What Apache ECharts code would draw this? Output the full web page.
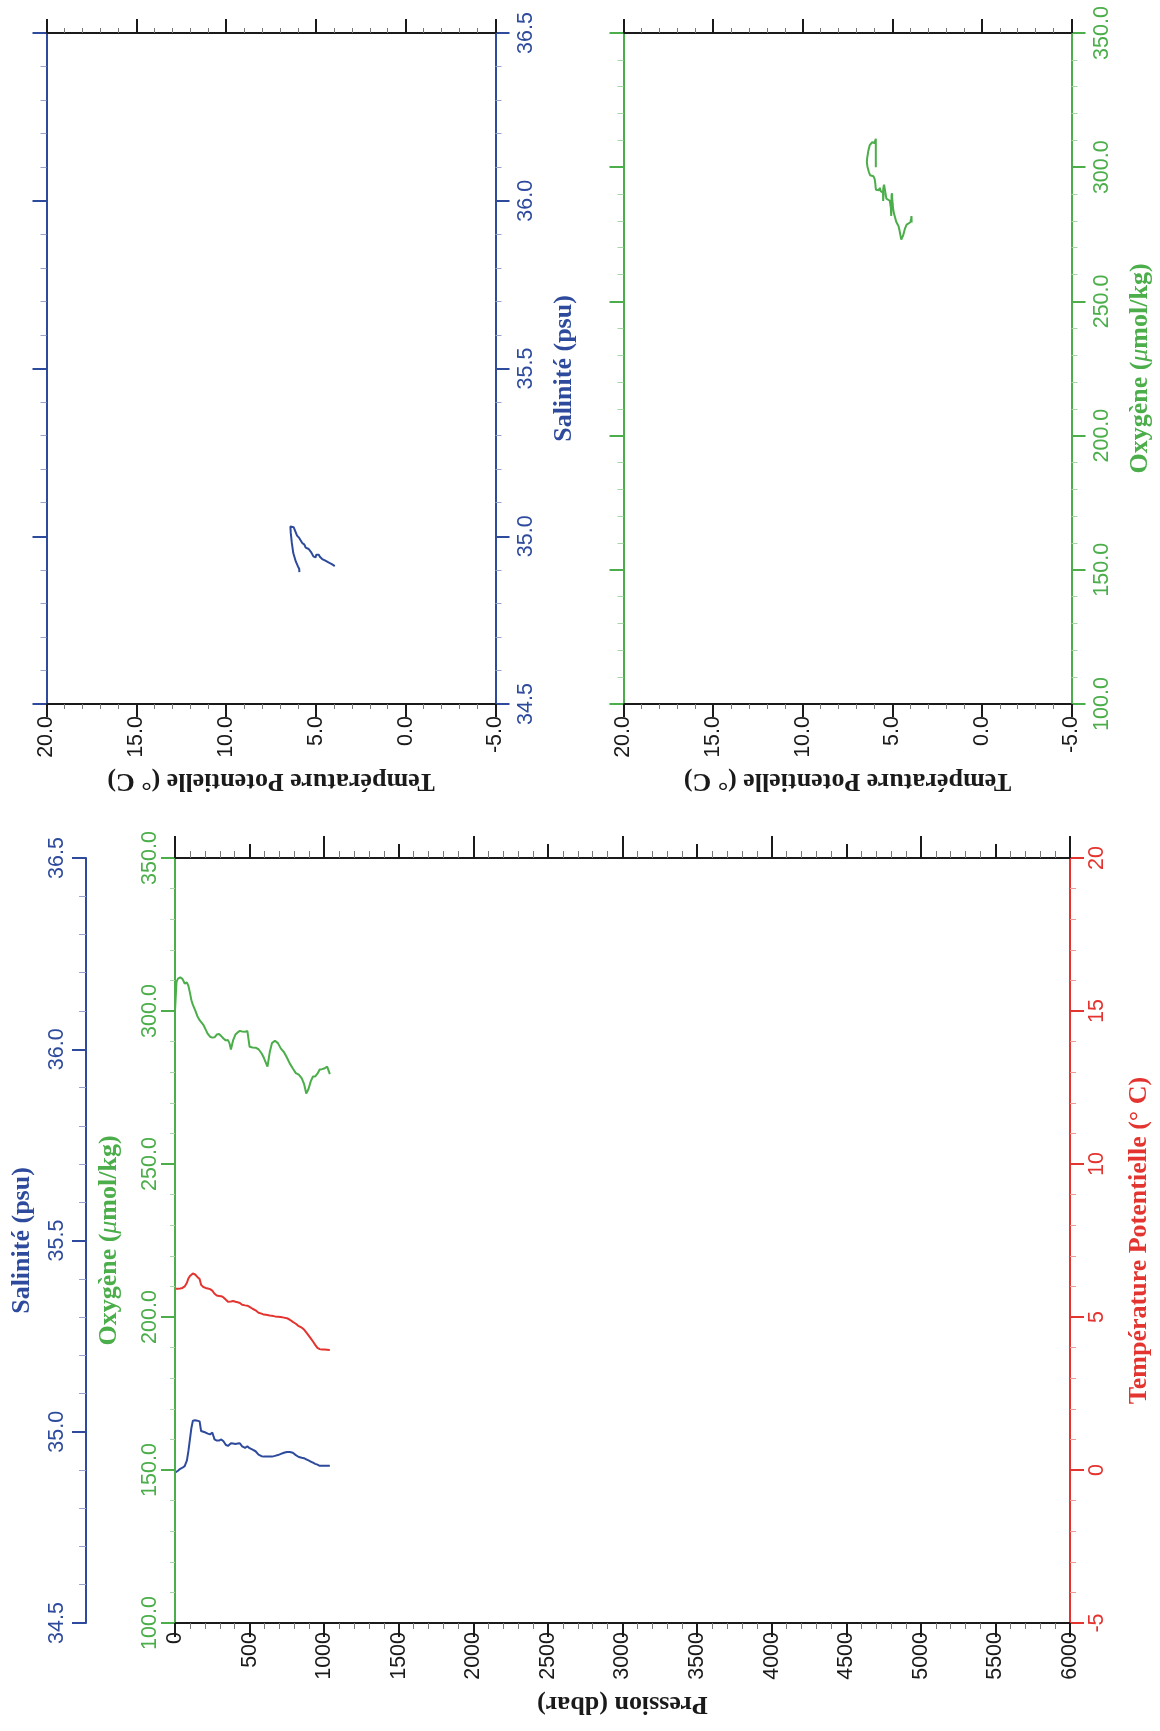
<!DOCTYPE html>
<html>
<head>
<meta charset="utf-8">
<script src="https://cdn.jsdelivr.net/npm/echarts@6/dist/echarts.min.js"></script>
<style>
html,body{margin:0;padding:0;background:#fff;}
#chart{width:1160px;height:1731px;}
</style>
</head>
<body>
<div id="chart"></div>
<script>
// ---- Data (one profile, 0–1040 dbar) ----
const pressure = [0,10,20,35,50,65,80,90,100,110,120,135,150,165,175,190,205,220,235,250,265,280,295,310,325,340,355,365,375,390,405,420,435,450,470,485,500,520,540,560,580,595,610,620,635,650,670,690,710,730,750,770,790,810,830,850,865,880,895,910,925,940,955,970,985,1000,1020,1038];
const temperature = [5.92,5.92,5.92,5.93,5.95,6.00,6.12,6.26,6.34,6.40,6.42,6.39,6.31,6.24,6.05,5.98,5.95,5.93,5.91,5.86,5.76,5.70,5.69,5.68,5.64,5.57,5.50,5.49,5.51,5.52,5.50,5.48,5.46,5.40,5.38,5.37,5.33,5.27,5.22,5.14,5.11,5.08,5.07,5.06,5.05,5.04,5.02,5.01,5.00,4.98,4.96,4.91,4.84,4.78,4.70,4.65,4.59,4.50,4.40,4.30,4.20,4.09,3.99,3.95,3.94,3.94,3.93,3.92];
const salinity = [34.893,34.896,34.898,34.903,34.906,34.910,34.925,34.950,34.980,35.010,35.029,35.030,35.029,35.027,35.002,35.000,34.998,34.995,34.993,34.998,34.980,34.977,34.977,34.980,34.975,34.966,34.963,34.962,34.970,34.969,34.968,34.969,34.970,34.962,34.958,34.962,34.957,34.953,34.949,34.940,34.936,34.935,34.935,34.935,34.935,34.935,34.937,34.939,34.942,34.945,34.947,34.947,34.945,34.939,34.934,34.932,34.931,34.928,34.925,34.922,34.919,34.916,34.914,34.911,34.911,34.911,34.911,34.911];
const oxygen = [300.0,309.5,310.6,311.0,310.5,309.0,309.3,308.2,306.0,303.5,302.0,300.3,298.3,297.0,296.6,295.5,294.0,292.5,291.6,291.3,291.4,292.3,292.5,291.8,291.0,290.4,290.5,289.5,287.4,290.5,292.3,293.0,293.5,293.3,293.2,293.5,288.3,288.1,288.0,287.5,286.2,284.8,283.0,281.8,286.5,289.5,290.3,289.5,287.7,286.6,284.8,282.8,281.2,279.7,279.2,278.0,276.2,273.0,274.5,277.0,278.6,278.6,279.5,280.9,281.0,281.2,281.8,279.4];

// Axis ranges / tick steps
const pressureTicks = {min:0, max:6000, step:500};
const tempTicks = {min:-5, max:20, step:5};
const salTicks = {min:34.5, max:36.5, step:0.5};
const oxyTicks = {min:100, max:350, step:50};

const BLUE = '#2d4a9c', GREEN = '#4bae4a', RED = '#e3342f', BLACK = '#1a1a1a';
const SANS = '"Liberation Sans", Arial, Helvetica, sans-serif';
const SERIF = '"Liberation Serif", "Times New Roman", serif';
const LABEL_SIZE = 21.5, TITLE_SIZE = 26;

function titleStyle(color){
  return {fontFamily:SERIF, fontWeight:'bold', fontSize:TITLE_SIZE, color:color,
    rich:{mu:{fontFamily:SERIF, fontStyle:'italic', fontWeight:'normal', fontSize:TITLE_SIZE, color:color}}};
}
function axisCommon(o){
  const color = o.color;
  return {
    type:'value', gridIndex:o.grid, position:o.position, offset:o.offset||0,
    min:o.t.min, max:o.t.max, interval:o.t.step, inverse:!!o.inverse,
    splitLine:{show:false},
    axisLine:{show:o.line!==false, onZero:false, lineStyle:{color:color, width:2}},
    axisTick:{show:true, inside:false, length:o.tickLen||14, lineStyle:{color:color, width:2}},
    minorTick:{show:o.minor!==false, splitNumber:o.minorSplit||5, length:o.minorLen||6, lineStyle:{color:o.minorColor||color, width:1}},
    axisLabel:{show:!!o.labels, rotate:90, margin:o.margin||18, fontFamily:SANS, fontSize:LABEL_SIZE, color:color,
      formatter:o.fmt || (v=>String(v))},
    name:o.name||'', nameLocation:'middle', nameGap:o.nameGap||50, nameRotate:o.nameRotate,
    nameTextStyle:titleStyle(color), z:o.z||5
  };
}
const f1 = v => v.toFixed(1);
const f0 = v => String(Math.round(v));

const xAxes = [
  // 0 profile bottom: pressure
  axisCommon({grid:0, position:'bottom', t:pressureTicks, color:BLACK, labels:true, fmt:f0, tickLen:14, minorLen:6,
    minorColor:'#777', name:'Pression (dbar)', nameRotate:180, nameGap:68, margin:9}),
  // 1 profile top: minor + medium ticks
  axisCommon({grid:0, position:'top', t:pressureTicks, color:BLACK, tickLen:14, minorLen:7, minorColor:'#777'}),
  // 2 profile top: tall ticks every 1000
  axisCommon({grid:0, position:'top', t:{min:0,max:6000,step:1000}, color:BLACK, tickLen:22, minor:false}),
  // 3 panel A bottom temperature
  axisCommon({grid:1, position:'bottom', t:tempTicks, inverse:true, color:BLACK, labels:true, fmt:f1, tickLen:13, minorLen:5,
    minorColor:'#777', name:'Température Potentielle (° C)', nameRotate:180, nameGap:64, margin:12}),
  // 4 panel A top
  axisCommon({grid:1, position:'top', t:tempTicks, inverse:true, color:BLACK, tickLen:14, minorLen:5, minorColor:'#777'}),
  // 5 panel B bottom temperature
  axisCommon({grid:2, position:'bottom', t:tempTicks, inverse:true, color:BLACK, labels:true, fmt:f1, tickLen:13, minorLen:5,
    minorColor:'#777', name:'Température Potentielle (° C)', nameRotate:180, nameGap:64, margin:12}),
  // 6 panel B top
  axisCommon({grid:2, position:'top', t:tempTicks, inverse:true, color:BLACK, tickLen:14, minorLen:5, minorColor:'#777'})
];
const yAxes = [
  // 0 profile temperature (right)
  axisCommon({grid:0, position:'right', t:tempTicks, color:RED, labels:true, fmt:f0, tickLen:14, minorLen:6, minorColor:'#ee9a96',
    name:'Température Potentielle (° C)', nameRotate:90, nameGap:56, margin:16}),
  // 1 profile oxygen (left)
  axisCommon({grid:0, position:'left', t:oxyTicks, color:GREEN, labels:true, fmt:f1, tickLen:14, minorLen:5, minorColor:'#a6d6a4',
    name:'Oxygène ({mu|μ}mol/kg)', nameRotate:90, nameGap:53, margin:14}),
  // 2 profile salinity (offset left)
  axisCommon({grid:0, position:'left', offset:89, t:salTicks, color:BLUE, labels:true, fmt:f1, tickLen:14, minorLen:7, minorColor:'#97a5ce',
    name:'Salinité (psu)', nameRotate:90, nameGap:51, margin:18}),
  // 3 panel A salinity right
  axisCommon({grid:1, position:'right', t:salTicks, color:BLUE, labels:true, fmt:f1, tickLen:14, minorLen:6, minorColor:'#97a5ce',
    name:'Salinité (psu)', nameRotate:90, nameGap:56, margin:20}),
  // 4 panel A salinity left
  axisCommon({grid:1, position:'left', t:salTicks, color:BLUE, tickLen:14, minorLen:6, minorColor:'#97a5ce'}),
  // 5 panel B oxygen right
  axisCommon({grid:2, position:'right', t:oxyTicks, color:GREEN, labels:true, fmt:f1, tickLen:14, minorLen:6, minorColor:'#a6d6a4',
    name:'Oxygène ({mu|μ}mol/kg)', nameRotate:90, nameGap:56, margin:20}),
  // 6 panel B oxygen left
  axisCommon({grid:2, position:'left', t:oxyTicks, color:GREEN, tickLen:14, minorLen:6, minorColor:'#a6d6a4'})
];

function line(xi, yi, data, color){
  return {type:'line', xAxisIndex:xi, yAxisIndex:yi, data:data, showSymbol:false, symbol:'none',
    lineStyle:{color:color, width:2}, silent:true, animation:false, z:3};
}
const series = [
  line(0, 2, pressure.map((p,i)=>[p, salinity[i]]), BLUE),
  line(0, 0, pressure.map((p,i)=>[p, temperature[i]]), RED),
  line(0, 1, pressure.map((p,i)=>[p, oxygen[i]]), GREEN),
  line(3, 3, pressure.map((p,i)=>[temperature[i], salinity[i]]), BLUE),
  line(5, 5, pressure.map((p,i)=>[temperature[i], oxygen[i]]), GREEN)
];

const chart = echarts.init(document.getElementById('chart'), null, {renderer:'canvas'});
chart.setOption({
  backgroundColor:'#fff',
  animation:false,
  grid:[
    {left:175, top:858, width:896, height:765, containLabel:false},
    {left:46.5, top:33, width:449, height:671, containLabel:false},
    {left:623.5, top:33, width:448, height:671, containLabel:false}
  ],
  xAxis:xAxes,
  yAxis:yAxes,
  series:series
});
</script>
</body>
</html>
